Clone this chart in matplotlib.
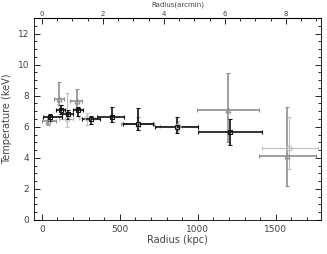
import numpy as np
import matplotlib
matplotlib.use("Agg")
import matplotlib.pyplot as plt
from matplotlib.ticker import MultipleLocator

# black squares
r1 = [50, 122, 165, 232, 313, 448, 617, 865, 1205]
r1_lo = [6, 90, 130, 200, 256, 352, 520, 725, 1000]
r1_hi = [128, 150, 200, 265, 372, 527, 715, 1000, 1410]
t1 = [6.6, 7.1, 6.85, 7.05, 6.5, 6.65, 6.2, 6.0, 5.65]
t1_lo = [6.4, 6.8, 6.5, 6.7, 6.2, 6.3, 5.8, 5.6, 4.85]
t1_hi = [6.8, 7.4, 7.1, 7.3, 6.7, 7.3, 7.2, 6.6, 6.5]

# gray triangles
r2 = [40, 110, 224, 617, 1192, 1572]
r2_lo = [0, 80, 180, 510, 994, 1391]
r2_hi = [90, 140, 260, 720, 1391, 1757]
t2 = [6.35, 7.8, 7.65, 6.15, 7.05, 4.1]
t2_lo = [6.1, 7.4, 7.2, 5.8, 5.0, 2.2]
t2_hi = [6.6, 8.9, 8.4, 6.6, 9.45, 7.25]

# light gray circles
r3 = [160, 290, 870, 1583]
r3_lo = [110, 240, 760, 1410]
r3_hi = [200, 340, 1000, 1770]
t3 = [6.5, 6.55, 6.05, 4.65]
t3_lo = [6.0, 6.1, 5.7, 3.3]
t3_hi = [8.2, 6.9, 6.4, 6.65]

kpc_per_arcmin = 195.5


def draw(ax, r, lo, hi, t, tlo, thi, color, marker, lw):
    r = np.array(r)
    t = np.array(t)
    xerr = [r - np.array(lo), np.array(hi) - r]
    yerr = [t - np.array(tlo), np.array(thi) - t]
    ax.errorbar(r, t, xerr=xerr, yerr=yerr, fmt=marker, mfc='none', mec=color,
                ms=3.5, mew=0.8, ecolor=color, elinewidth=lw, capsize=1.5, capthick=0.8)


fig = plt.figure(figsize=(3.27, 2.54), dpi=100)
ax = fig.add_axes([0.104, 0.134, 0.878, 0.795])

draw(ax, r3, r3_lo, r3_hi, t3, t3_lo, t3_hi, '#c0c0c0', 'o', 0.8)
draw(ax, r2, r2_lo, r2_hi, t2, t2_lo, t2_hi, '#909090', '^', 1.2)
draw(ax, r1, r1_lo, r1_hi, t1, t1_lo, t1_hi, '#111111', 's', 1.2)

ax.set_xlim(-50, 1790)
ax.set_ylim(0, 13)
ax.set_xticks([0, 500, 1000, 1500])
ax.set_yticks([0, 2, 4, 6, 8, 10, 12])
ax.xaxis.set_minor_locator(MultipleLocator(100))
ax.yaxis.set_minor_locator(MultipleLocator(0.5))
ax.tick_params(which='both', direction='in', right=True, labelsize=6.5, labelcolor='#444444', width=0.6)
ax.tick_params(which='major', length=4)
ax.tick_params(which='minor', length=2)
ax.set_xlabel('Radius (kpc)', fontsize=7, color='#444444', labelpad=1)
ax.set_ylabel('Temperature (keV)', fontsize=7, color='#444444')
for s in ax.spines.values():
    s.set_linewidth(0.6)

top = ax.secondary_xaxis('top', functions=(lambda x: x / kpc_per_arcmin, lambda a: a * kpc_per_arcmin))
top.set_xticks([0, 2, 4, 6, 8])
top.xaxis.set_minor_locator(MultipleLocator(0.5))
top.tick_params(which='both', direction='in', labelsize=5, labelcolor='#444444', width=0.6, pad=0.5)
top.tick_params(which='major', length=4)
top.tick_params(which='minor', length=2)
fig.text(0.543, 0.982, 'Radius(arcmin)', fontsize=5, color='#444444', ha='center', va='center')

fig.savefig('out.png', dpi=100)
